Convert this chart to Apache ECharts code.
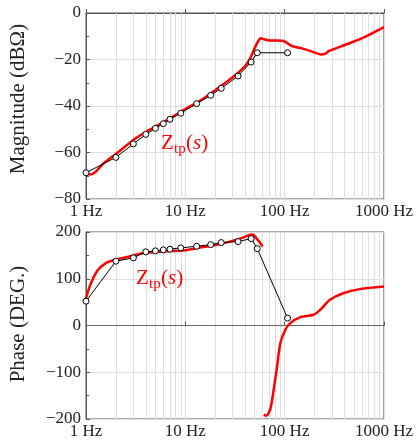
<!DOCTYPE html>
<html>
<head>
<meta charset="utf-8">
<script src="https://cdn.jsdelivr.net/npm/echarts@6/dist/echarts.min.js"></script>
<style>
  html, body { margin: 0; padding: 0; background: #fff; }
  #main { width: 416px; height: 444px; }
</style>
</head>
<body>
<div id="main"></div>
<script>
// measured points (black, open circles)
const measFreq = [1, 2, 3, 4, 5, 6, 7, 9, 13, 18, 23, 34, 46, 53, 107];
const measMag = [-68.7, -62.1, -56.3, -52.2, -49.6, -47.6, -45.7, -43.1, -39.0, -35.4, -32.4, -27.1, -21.1, -17.1, -17.1];
const measPhase = [52, 137.6, 144.7, 157.5, 159.6, 161.8, 163.2, 166, 169.6, 173, 177.4, 179.5, 185.9, 164.5, 15.8];

// model Ztp(s) (red)
const modelMagFreq = [1, 1.1, 1.25, 1.5, 2, 3, 4, 6, 10, 15, 20, 30, 40, 45, 50, 55, 58, 62, 70, 95, 118, 150, 190, 230, 255, 280, 450, 670, 1000];
const modelMag = [-69.2, -69.5, -68.3, -64.7, -60.6, -54.6, -51.2, -47, -41.3, -37, -33.2, -27.6, -22.8, -19.5, -15, -11.6, -10.9, -11.3, -11.8, -11.9, -14.2, -15.2, -16.6, -17.8, -17.6, -16.3, -13, -9.9, -6.1];

const modelPhFreqA = [1, 1.11, 1.3, 1.57, 2, 2.8, 3.8, 6, 10, 15, 20, 27.5, 37.5, 46.4, 49, 55, 60];
const modelPhA = [58, 88, 117, 133, 141, 148, 155, 158.5, 161, 168, 172, 178.8, 187.4, 194.4, 193, 180, 169];
const modelPhFreqB = [61.7, 65.3, 71.5, 77.6, 83.9, 90.6, 101.6, 114, 144, 195, 228, 286, 389, 570, 1000];
const modelPhB = [-190.7, -193, -180, -137, -87.6, -37.6, -9.2, 5, 17.9, 22.9, 33.5, 55, 69, 77.8, 83.4];

// minor log grid lines
const minorFreqs = [2, 3, 4, 5, 6, 7, 8, 9, 20, 30, 40, 50, 60, 70, 80, 90, 200, 300, 400, 500, 600, 700, 800, 900];

const font = "'Liberation Serif', 'Times New Roman', serif";
const zip = (xs, ys) => xs.map((x, i) => [x, ys[i]]);

function xAxisCfg(gridIndex) {
  return {
    type: 'log', logBase: 10, min: 1, max: 1000, gridIndex: gridIndex,
    axisLine: { show: true, lineStyle: { color: '#555' } },
    axisTick: { inside: true, length: 4, lineStyle: { color: '#555' } },
    splitLine: { show: true, lineStyle: { color: '#ddd' } },
    axisLabel: {
      color: '#222', fontFamily: font, fontSize: 17, margin: 4,
      showMinLabel: true, showMaxLabel: true,
      formatter: v => Math.round(v) + ' Hz'
    }
  };
}

function yAxisCfg(gridIndex, min, max, interval) {
  return {
    type: 'value', min: min, max: max, interval: interval, gridIndex: gridIndex,
    axisLine: { show: true, lineStyle: { color: '#555' } },
    axisTick: { show: true, inside: true, length: 4, lineStyle: { color: '#555' } },
    minorTick: { show: true, splitNumber: 2, length: 3, lineStyle: { color: '#555' } },
    splitLine: { show: true, lineStyle: { color: '#ddd' } },
    axisLabel: {
      color: '#222', fontFamily: font, fontSize: 17, margin: 5,
      formatter: v => String(v).replace('-', '\u2212')
    }
  };
}

function minorLines(xi, yi) {
  return {
    type: 'line', xAxisIndex: xi, yAxisIndex: yi, data: [], silent: true, z: 1,
    markLine: {
      silent: true, symbol: 'none', label: { show: false }, z: 1,
      lineStyle: { color: '#ddd', width: 1, type: 'solid' },
      data: minorFreqs.map(f => ({ xAxis: f }))
    }
  };
}

const measStyle = {
  type: 'line', symbol: 'circle', symbolSize: 6, showAllSymbol: true,
  lineStyle: { color: '#000', width: 1 },
  itemStyle: { color: '#fff', borderColor: '#000', borderWidth: 1 },
  z: 4
};
const modelStyle = {
  type: 'line', symbol: 'none', smooth: 0.3,
  lineStyle: { color: '#ff0000', width: 2.5 },
  z: 3
};

const option = {
  animation: false,
  grid: [
    { left: 86, top: 13, width: 300, height: 186, show: true, borderColor: '#555', borderWidth: 1 },
    { left: 86, top: 232, width: 300, height: 187, show: true, borderColor: '#555', borderWidth: 1 }
  ],
  xAxis: [xAxisCfg(0), xAxisCfg(1)],
  yAxis: [yAxisCfg(0, -80, 0, 20), yAxisCfg(1, -200, 200, 100)],
  series: [
    minorLines(0, 0),
    minorLines(1, 1),
    {
      type: 'line', xAxisIndex: 1, yAxisIndex: 1, data: [], silent: true, z: 2,
      markLine: {
        silent: true, symbol: 'none', label: { show: false }, z: 2,
        lineStyle: { color: '#666', width: 1.2, type: 'solid' },
        data: [{ yAxis: 0 }]
      }
    },
    Object.assign({}, modelStyle, { name: 'Ztp mag', xAxisIndex: 0, yAxisIndex: 0, data: zip(modelMagFreq, modelMag) }),
    Object.assign({}, measStyle, { name: 'meas mag', xAxisIndex: 0, yAxisIndex: 0, data: zip(measFreq, measMag) }),
    Object.assign({}, modelStyle, { name: 'Ztp phase a', xAxisIndex: 1, yAxisIndex: 1, data: zip(modelPhFreqA, modelPhA) }),
    Object.assign({}, modelStyle, { name: 'Ztp phase b', xAxisIndex: 1, yAxisIndex: 1, data: zip(modelPhFreqB, modelPhB) }),
    Object.assign({}, measStyle, { name: 'meas phase', xAxisIndex: 1, yAxisIndex: 1, data: zip(measFreq, measPhase) })
  ],
  graphic: [
    {
      type: 'text', x: 18, y: 99, rotation: Math.PI / 2,
      style: { text: 'Magnitude (dBΩ)', font: '21px ' + font, fill: '#222', align: 'center', verticalAlign: 'middle' }
    },
    {
      type: 'text', x: 18, y: 324, rotation: Math.PI / 2,
      style: { text: 'Phase (DEG.)', font: '21px ' + font, fill: '#222', align: 'center', verticalAlign: 'middle' }
    }
  ]
};

// Z_tp(s) label: main letter, subscript, then (s) with italic s
function ztpLabel(x, y) {
  const red = '#ff0000';
  return [
    { type: 'text', x: x, y: y, z: 10,
      style: { text: 'Z', font: '21px ' + font, fill: red, verticalAlign: 'top' } },
    { type: 'text', x: x + 13, y: y + 9, z: 10,
      style: { text: 'tp', font: '15px ' + font, fill: red, verticalAlign: 'top' } },
    { type: 'text', x: x + 25, y: y, z: 10,
      style: {
        text: '{n|(}{i|s}{n|)}', verticalAlign: 'top',
        rich: {
          n: { fontSize: 21, fontFamily: font, fill: red },
          i: { fontSize: 21, fontFamily: font, fontStyle: 'italic', fill: red }
        }
      } }
  ];
}
option.graphic = option.graphic.concat(ztpLabel(161, 133), ztpLabel(136, 268));

const chart = echarts.init(document.getElementById('main'));
chart.setOption(option);
</script>
</body>
</html>
